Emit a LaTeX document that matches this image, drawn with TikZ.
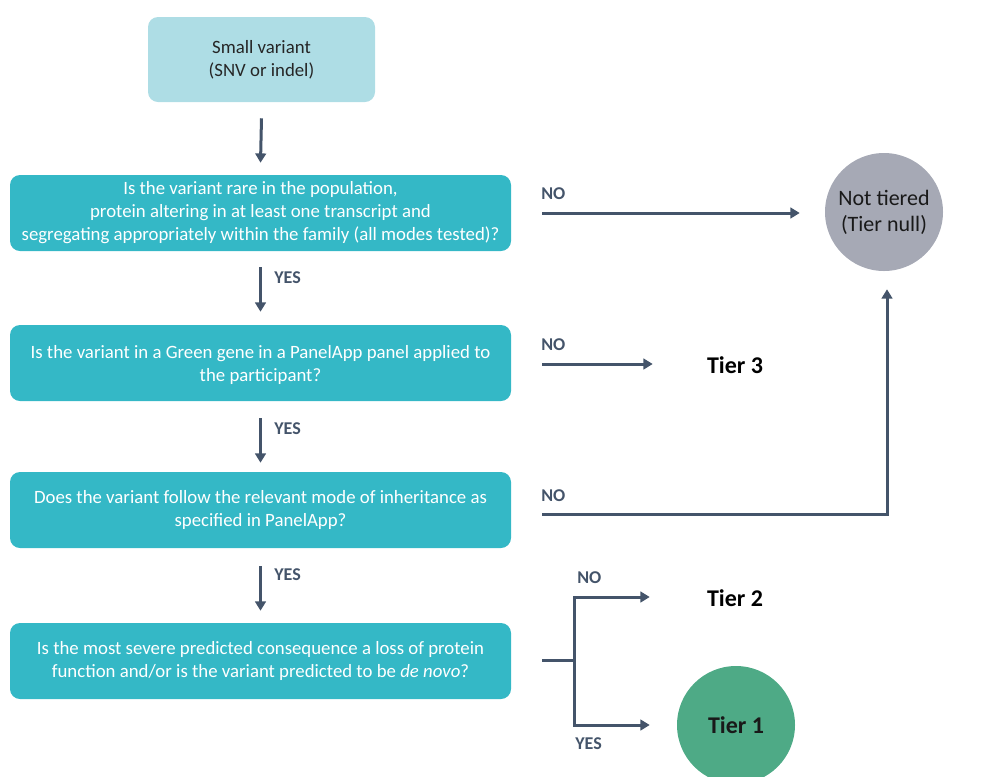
\documentclass[tikz,border=0pt]{standalone}
\usepackage{fontspec}
\setmainfont{Carlito}
\usetikzlibrary{arrows.meta,calc}
\definecolor{arrc}{HTML}{44546A}
\definecolor{lightb}{HTML}{AEDDE5}
\definecolor{teal}{HTML}{34B8C6}
\definecolor{grayc}{HTML}{A6A9B5}
\definecolor{greenc}{HTML}{4EAA86}
\tikzset{
  qbox/.style={fill=teal, rounded corners=7.5pt, minimum width=375.75pt, minimum height=57pt, text=white, align=center, inner sep=0pt, font=\fontsize{14.1}{17.25}\selectfont},
  arr/.style={draw=arrc, line width=2.25pt, -{Triangle[width=8pt,length=7pt]}},
  plain/.style={draw=arrc, line width=2.25pt},
  lab/.style={text=arrc, font=\fontsize{13.5}{14}\selectfont\bfseries, anchor=west, inner sep=0pt},
  tier/.style={font=\fontsize{18}{20}\selectfont\bfseries, inner sep=0pt},
}
\begin{document}
\begin{tikzpicture}[x=0.75pt, y=-0.75pt]
\useasboundingbox (0,0) rectangle (1007,776);
\node[fill=lightb, rounded corners=7.5pt, minimum width=170.25pt, minimum height=63.75pt, align=center, inner sep=0pt, text=black!85, font=\fontsize{14.1}{17.25}\selectfont] (top) at (261.5,59.5) {Small variant\\(SNV or indel)};
\node[qbox] (b1) at (260.5,213) {Is the variant rare in the population,\\protein altering in at least one transcript and\\segregating appropriately within the family (all modes tested)?};
\node[qbox] (b2) at (260.5,363) {\strut Is the variant in a Green gene in a PanelApp panel applied to\\the participant?};
\node[qbox] (b3) at (260.5,510) {Does the variant follow the relevant mode of inheritance as\\specified in PanelApp?};
\node[qbox] (b4) at (260.5,661) {Is the most severe predicted consequence a loss of protein\\function and/or is the variant predicted to be \textit{de novo}?};
\node[circle, fill=grayc, minimum size=88.5pt, inner sep=0pt, align=center, font=\fontsize{16.5}{19.5}\selectfont, text=black!90] (nt) at (884,212) {Not tiered\\(Tier null)};
\node[circle, fill=greenc, minimum size=88.5pt, inner sep=0pt, tier, text=black!90] (t1) at (736,725) {Tier 1};
\node[tier] (t3) at (735,365) {Tier 3};
\node[tier] (t2) at (735,598) {Tier 2};
% vertical arrows
\draw[arr] ($(top.south)+(0,16)$) -- ($(b1.north)+(0,-12)$);
\draw[arr] ($(b1.south)+(0,16)$) -- ($(b2.north)+(0,-13)$);
\draw[arr] ($(b2.south)+(0,17)$) -- ($(b3.north)+(0,-9)$);
\draw[arr] ($(b3.south)+(0,18)$) -- ($(b4.north)+(0,-12)$);
\node[lab] (y1) at (274,278) {YES};
\node[lab] (y2) at (274,429) {YES};
\node[lab] (y3) at (274,575) {YES};
% NO arrows
\draw[arr] ($(b1.east)+(31,0)$) -- ($(nt.west)+(-25,1)$);
\node[lab] (n1) at (541,194) {NO};
\draw[arr] ($(b2.east)+(31,1)$) -- ($(t3.west)+(-54,-1)$);
\node[lab] (n2) at (541,345) {NO};
\coordinate (c3) at (887,514);
\draw[arr] ($(b3.east)+(31,4)$) -- (c3) -- ($(nt.south)+(3,18)$);
\node[lab] (n3) at (541,496) {NO};
% branch
\coordinate (bj) at (574,660);
\coordinate (bt) at (574,597);
\coordinate (bb) at (574,725);
\draw[plain] ($(b4.east)+(31,-1)$) -- (bj);
\draw[arr] (bj) -- (bt) -- ($(t2.west)+(-57,-1)$);
\draw[arr] (bj) -- (bb) -- ($(t1.west)+(-27,0)$);
\node[lab] (n4) at (577,578) {NO};
\node[lab] (y4) at (575,744) {YES};
\end{tikzpicture}
\end{document}
